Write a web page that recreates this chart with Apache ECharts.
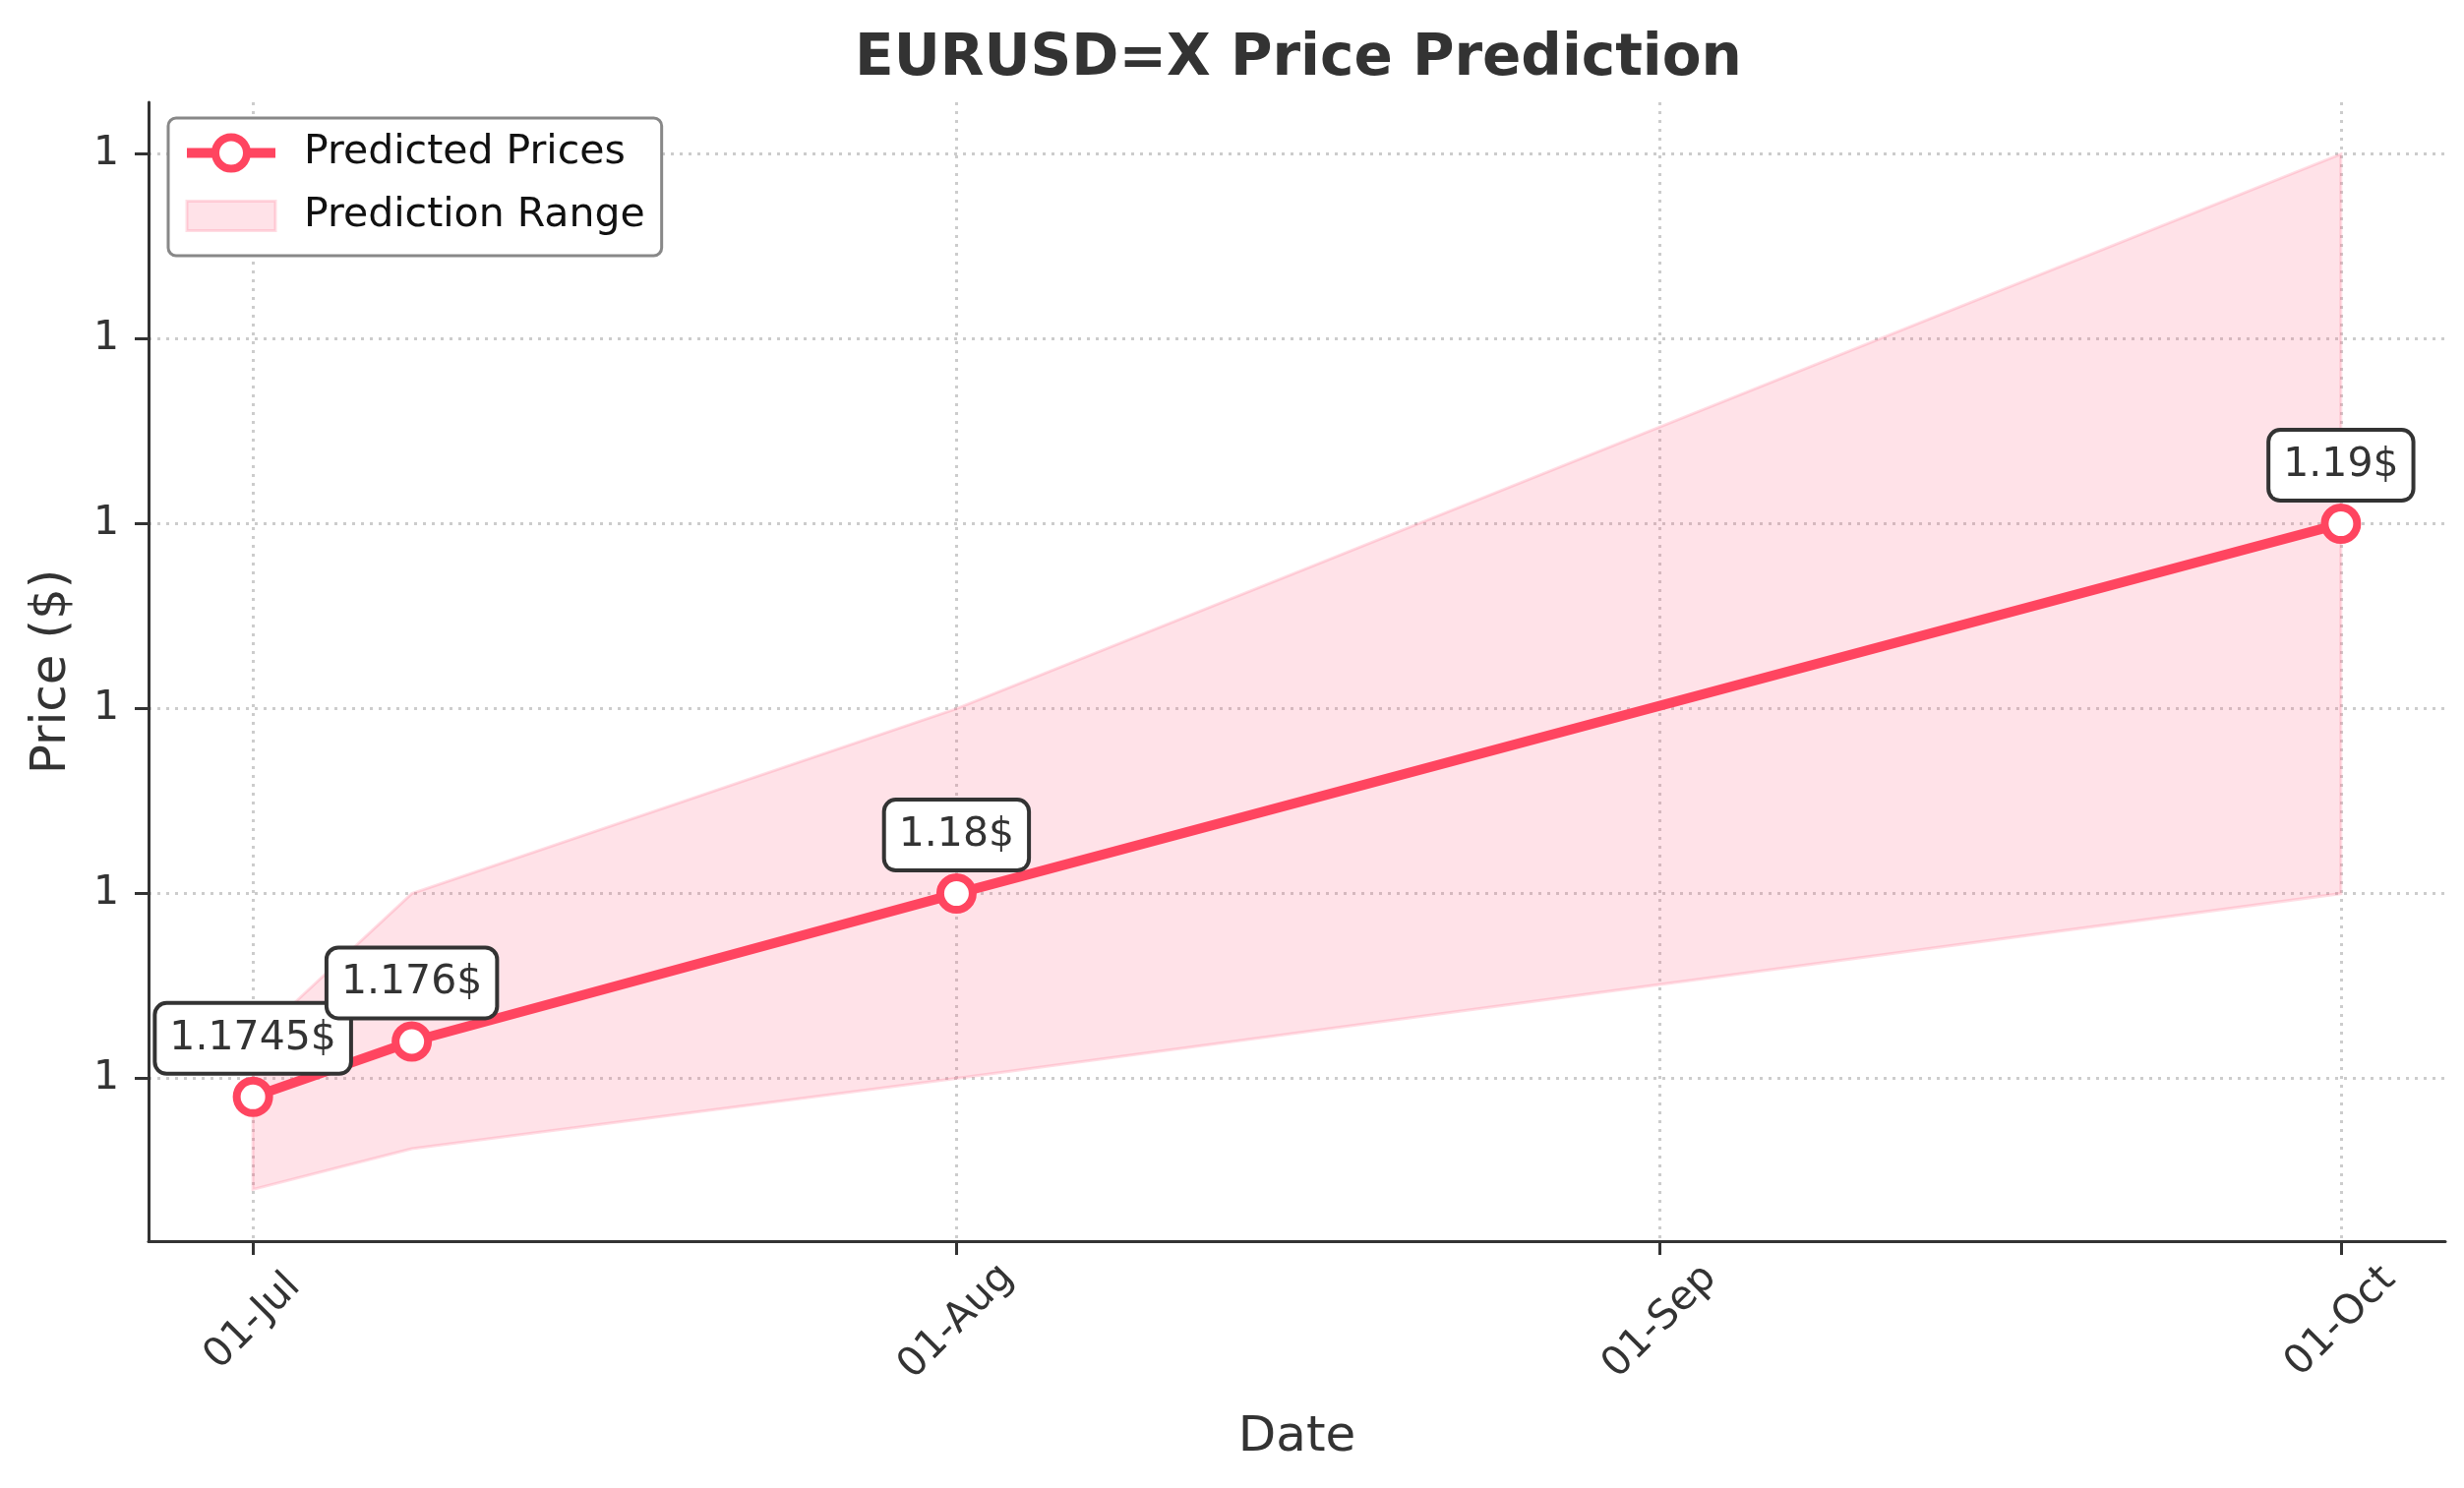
<!DOCTYPE html>
<html>
<head>
<meta charset="utf-8">
<title>EURUSD=X Price Prediction</title>
<script src="https://cdn.jsdelivr.net/npm/echarts@6/dist/echarts.min.js"></script>
<style>
    html, body { margin: 0; padding: 0; background: #fff; }
    #chart { width: 2505px; height: 1513px; }
</style>
</head>
<body>
<div id="chart"></div>
<script>
// values
const dates = ["2025-07-01", "2025-07-08", "2025-08-01", "2025-10-01"]
const predicted = [1.1745, 1.176, 1.18, 1.19]
const rangeLow = [1.172, 1.1731, 1.175, 1.18]
const rangeHigh = [1.176, 1.18, 1.185, 1.20]

const xTickDates = ["2025-07-01", "2025-08-01", "2025-09-01", "2025-10-01"]
const yTicks = [1.175, 1.18, 1.185, 1.19, 1.195, 1.20]
const monthNames = ["Jan", "Feb", "Mar", "Apr", "May", "Jun", "Jul", "Aug", "Sep", "Oct", "Nov", "Dec"]

const lineColor = "#ff4560"
const bandFill = "rgba(255, 99, 132, 0.19)"
const bandEdge = "rgba(255, 99, 132, 0.22)"
const textColor = "#333333"
const font = "DejaVu Sans"

const toTime = (s) => new Date(s + "T00:00:00").getTime()

// matplotlib style 5% margins
const tFirst = toTime(dates[0])
const tLast = toTime(dates[dates.length - 1])
const tPad = (tLast - tFirst) * 0.05
const yLo = Math.min(...rangeLow)
const yHi = Math.max(...rangeHigh)
const yPad = (yHi - yLo) * 0.05

const predData = dates.map((d, i) => [toTime(d), predicted[i]])

const fmtDate = (v) => {
    const d = new Date(v)
    const dd = String(d.getDate()).padStart(2, "0")
    return `${dd}-${monthNames[d.getMonth()]}`
}

// fill_between: upper edge left to right, then lower edge back
const renderBand = (params, api) => {
    const upper = dates.map((d, i) => api.coord([toTime(d), rangeHigh[i]]))
    const lower = dates.map((d, i) => api.coord([toTime(d), rangeLow[i]])).reverse()
    return {
        type: "polygon",
        shape: { points: upper.concat(lower) },
        style: { fill: bandFill, stroke: bandEdge, lineWidth: 3 },
        silent: true,
    }
}

const gridLine = {
    show: true,
    lineStyle: { color: "#cccccc", width: 3, type: [3, 6] },
}

const chart = echarts.init(document.getElementById("chart"), null, { renderer: "canvas" })

const option = {
    backgroundColor: "#ffffff",
    animation: false,
    textStyle: { fontFamily: font },
    title: {
        text: "EURUSD=X Price Prediction",
        left: 1315,
        top: 27,
        textAlign: "center",
        textStyle: { fontFamily: font, fontSize: 58, fontWeight: "bold", color: textColor },
    },
    legend: {
        orient: "vertical",
        left: 171,
        top: 120,
        padding: [15, 17, 20, 14],
        itemWidth: 90,
        itemHeight: 40,
        itemGap: 23,
        backgroundColor: "#ffffff",
        borderColor: "#888888",
        borderWidth: 3,
        borderRadius: 8,
        textStyle: { fontFamily: font, fontSize: 41, color: "#111111", padding: [0, 0, 0, 24] },
        data: [
            {
                name: "Predicted Prices",
                lineStyle: { color: lineColor, width: 10 },
                itemStyle: { color: "#ffffff", borderColor: lineColor, borderWidth: 8 },
            },
            {
                name: "Prediction Range",
                icon: "path://M0,0H90V30H0Z",
                itemStyle: { color: bandFill, borderColor: bandEdge, borderWidth: 3 },
            },
        ],
    },
    grid: { left: 151, right: 19, top: 104, bottom: 251 },
    xAxis: {
        type: "value",
        min: tFirst - tPad,
        max: tLast + tPad,
        name: "Date",
        nameLocation: "middle",
        nameGap: 175,
        nameTextStyle: { fontFamily: font, fontSize: 50, color: textColor },
        axisLine: { show: true, onZero: false, lineStyle: { color: textColor, width: 3 } },
        axisTick: {
            show: true,
            length: 14,
            lineStyle: { color: textColor, width: 3 },
            customValues: xTickDates.map(toTime),
        },
        axisLabel: {
            customValues: xTickDates.map(toTime),
            rotate: 45,
            align: "center",
            verticalAlign: "middle",
            margin: 82,
            fontFamily: font,
            fontSize: 41,
            color: textColor,
            formatter: fmtDate,
        },
        splitLine: gridLine,
    },
    yAxis: {
        type: "value",
        min: yLo - yPad,
        max: yHi + yPad,
        name: "Price ($)",
        nameLocation: "middle",
        nameGap: 73,
        nameTextStyle: { fontFamily: font, fontSize: 50, color: textColor },
        axisLine: { show: true, onZero: false, lineStyle: { color: textColor, width: 3 } },
        axisTick: {
            show: true,
            length: 14,
            lineStyle: { color: textColor, width: 3 },
            customValues: yTicks,
        },
        axisLabel: {
            customValues: yTicks,
            margin: 30,
            fontFamily: font,
            fontSize: 41,
            color: textColor,
            formatter: (v) => v.toFixed(0),
        },
        splitLine: gridLine,
    },
    series: [
        {
            name: "Prediction Range",
            type: "custom",
            renderItem: renderBand,
            data: [0],
            itemStyle: { color: bandFill },
            silent: true,
            z: 1,
        },
        {
            name: "Predicted Prices",
            type: "line",
            data: predData,
            symbol: "circle",
            symbolSize: 33,
            showAllSymbol: true,
            lineStyle: { color: lineColor, width: 10 },
            itemStyle: { color: "#ffffff", borderColor: lineColor, borderWidth: 8 },
            label: {
                show: true,
                position: "top",
                distance: 5,
                formatter: (p) => `${p.value[1]}$`,
                fontFamily: font,
                fontSize: 41,
                lineHeight: 48,
                color: textColor,
                backgroundColor: "#ffffff",
                borderColor: textColor,
                borderWidth: 4,
                borderRadius: 10,
                padding: [10, 13],
            },
            z: 5,
        },
    ],
}

chart.setOption(option)
</script>
</body>
</html>
